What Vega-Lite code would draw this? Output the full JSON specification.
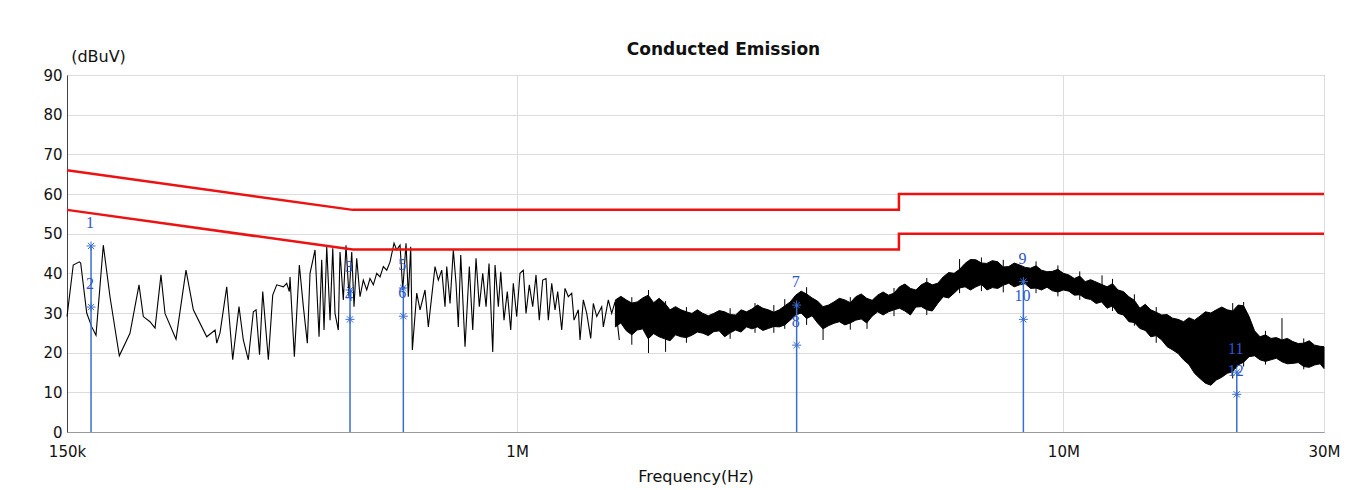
{
  "$schema": "https://vega.github.io/schema/vega-lite/v6.json",
  "width": 1257,
  "height": 357,
  "autosize": {"type": "none"},
  "padding": {"left": 67, "top": 75, "right": 35, "bottom": 58},
  "background": "white",
  "config": {
    "font": "DejaVu Sans",
    "view": {"stroke": "#8a8a8a", "strokeWidth": 1}
  },
  "title": {
    "text": "Conducted Emission",
    "font": "DejaVu Sans",
    "fontSize": 17,
    "fontWeight": "bold",
    "color": "#111111",
    "anchor": "middle",
    "dx": 28,
    "offset": -11
  },
  "datasets": {
    "trace": [
      {"f":0.15,"dB":29.1},{"f":0.154,"dB":42.1},{"f":0.158,"dB":42.9},{"f":0.1589,"dB":42.6},{"f":0.163,"dB":30},{"f":0.1665,"dB":26.5},{"f":0.1695,"dB":24.4},{"f":0.1748,"dB":47.1},{"f":0.1798,"dB":34.1},{"f":0.187,"dB":19.2},{"f":0.1956,"dB":24.9},{"f":0.2032,"dB":37.1},{"f":0.2069,"dB":29.1},{"f":0.2128,"dB":27.8},{"f":0.2174,"dB":26.2},{"f":0.2229,"dB":39.6},{"f":0.2267,"dB":29.9},{"f":0.2375,"dB":23.4},{"f":0.2477,"dB":40.8},{"f":0.2555,"dB":30.8},{"f":0.2703,"dB":24},{"f":0.28,"dB":25.7},{"f":0.282,"dB":22.4},{"f":0.2859,"dB":25},{"f":0.2941,"dB":36.6},{"f":0.3016,"dB":18.2},{"f":0.3097,"dB":31.6},{"f":0.3154,"dB":23.2},{"f":0.3221,"dB":18.2},{"f":0.329,"dB":30.3},{"f":0.3328,"dB":30.8},{"f":0.3377,"dB":19.5},{"f":0.3423,"dB":35.4},{"f":0.3505,"dB":18.2},{"f":0.357,"dB":34.5},{"f":0.3631,"dB":37.1},{"f":0.3734,"dB":36.6},{"f":0.3787,"dB":37.5},{"f":0.3829,"dB":35.4},{"f":0.384,"dB":39.1},{"f":0.3911,"dB":19},{"f":0.3994,"dB":42.1},{"f":0.4062,"dB":31.6},{"f":0.4131,"dB":22.4},{"f":0.4178,"dB":40},{"f":0.4267,"dB":45.9},{"f":0.434,"dB":24},{"f":0.4389,"dB":43.4},{"f":0.4432,"dB":25.7},{"f":0.4483,"dB":46.7},{"f":0.4546,"dB":28.2},{"f":0.4598,"dB":46.3},{"f":0.4642,"dB":29.9},{"f":0.4707,"dB":25.7},{"f":0.4741,"dB":45.4},{"f":0.4807,"dB":33.3},{"f":0.4862,"dB":47.1},{"f":0.4924,"dB":34.1},{"f":0.4981,"dB":45.4},{"f":0.5029,"dB":31.6},{"f":0.5087,"dB":43.8},{"f":0.5158,"dB":34.1},{"f":0.523,"dB":38.3},{"f":0.5306,"dB":35.8},{"f":0.538,"dB":38.7},{"f":0.5456,"dB":37.1},{"f":0.5534,"dB":40},{"f":0.5612,"dB":39.1},{"f":0.5691,"dB":41.7},{"f":0.5773,"dB":40.8},{"f":0.5854,"dB":42.9},{"f":0.5953,"dB":47.6},{"f":0.6021,"dB":45.9},{"f":0.6106,"dB":47.1},{"f":0.6176,"dB":35.8},{"f":0.6262,"dB":47.6},{"f":0.6323,"dB":34.1},{"f":0.6387,"dB":46.7},{"f":0.6431,"dB":20.7},{"f":0.6551,"dB":35},{"f":0.6643,"dB":30.8},{"f":0.6784,"dB":35.8},{"f":0.6879,"dB":26.5},{"f":0.7076,"dB":41.7},{"f":0.7175,"dB":38.3},{"f":0.7279,"dB":40.8},{"f":0.7381,"dB":31.6},{"f":0.7434,"dB":41.7},{"f":0.7538,"dB":32.4},{"f":0.7643,"dB":45.9},{"f":0.7731,"dB":37.5},{"f":0.7806,"dB":26.5},{"f":0.7886,"dB":44.6},{"f":0.803,"dB":21.5},{"f":0.8177,"dB":41.7},{"f":0.8295,"dB":25.7},{"f":0.8411,"dB":43.8},{"f":0.8529,"dB":31.6},{"f":0.8652,"dB":40},{"f":0.8774,"dB":31.6},{"f":0.8885,"dB":42.5},{"f":0.9025,"dB":20.2},{"f":0.9113,"dB":42.1},{"f":0.9241,"dB":31.6},{"f":0.9335,"dB":40.4},{"f":0.9464,"dB":28.2},{"f":0.9596,"dB":35.4},{"f":0.9735,"dB":25.7},{"f":0.9842,"dB":37.5},{"f":0.9984,"dB":29.1},{"f":1.0124,"dB":40},{"f":1.0266,"dB":40.8},{"f":1.0384,"dB":29.9},{"f":1.0529,"dB":37.1},{"f":1.0681,"dB":31.6},{"f":1.0831,"dB":39.6},{"f":1.0982,"dB":28.2},{"f":1.1141,"dB":38.3},{"f":1.1297,"dB":38.7},{"f":1.1407,"dB":28.2},{"f":1.1572,"dB":37.5},{"f":1.1734,"dB":30.8},{"f":1.1868,"dB":35.4},{"f":1.207,"dB":25.7},{"f":1.2239,"dB":36.2},{"f":1.2411,"dB":34.1},{"f":1.259,"dB":35},{"f":1.2713,"dB":28.2},{"f":1.2945,"dB":30.8},{"f":1.3038,"dB":23.2},{"f":1.3221,"dB":33.3},{"f":1.3412,"dB":29.9},{"f":1.364,"dB":23.6},{"f":1.379,"dB":32.4},{"f":1.3989,"dB":29.1},{"f":1.4287,"dB":31.6},{"f":1.4384,"dB":26.5},{"f":1.469,"dB":33.3},{"f":1.4901,"dB":29.9},{"f":1.511,"dB":32.8},{"f":1.5386,"dB":23.2}
    ],
    "band": [
      {"f":1.5136,"dB":26.5,"hi":33.3},{"f":1.5488,"dB":27.5,"hi":34.2},{"f":1.5849,"dB":25.5,"hi":33.3},{"f":1.6218,"dB":24.5,"hi":32.5},{"f":1.6596,"dB":25.7,"hi":32.8},{"f":1.6982,"dB":26,"hi":33.8},{"f":1.7378,"dB":23.5,"hi":34.5},{"f":1.7783,"dB":24.8,"hi":32.6},{"f":1.8197,"dB":24,"hi":33.7},{"f":1.8621,"dB":23.5,"hi":32.5},{"f":1.9055,"dB":23,"hi":30.8},{"f":1.9498,"dB":24.5,"hi":31.6},{"f":1.9953,"dB":24,"hi":30.8},{"f":2.0417,"dB":23.8,"hi":30.3},{"f":2.0893,"dB":24.4,"hi":29.9},{"f":2.138,"dB":25.2,"hi":30.8},{"f":2.1878,"dB":24.9,"hi":29.9},{"f":2.2387,"dB":24.3,"hi":29.3},{"f":2.2909,"dB":25.3,"hi":29.9},{"f":2.3442,"dB":25.5,"hi":30.6},{"f":2.3988,"dB":24,"hi":30.3},{"f":2.4547,"dB":25,"hi":29.6},{"f":2.5119,"dB":25.7,"hi":29.5},{"f":2.5704,"dB":25.2,"hi":30.8},{"f":2.6303,"dB":26.5,"hi":30.3},{"f":2.6915,"dB":26,"hi":31},{"f":2.7542,"dB":26.5,"hi":32},{"f":2.8184,"dB":25.6,"hi":31.2},{"f":2.884,"dB":26.1,"hi":30.8},{"f":2.9512,"dB":26.6,"hi":30.2},{"f":3.02,"dB":26.5,"hi":30.8},{"f":3.0903,"dB":27,"hi":31.8},{"f":3.1623,"dB":28.2,"hi":32.8},{"f":3.2359,"dB":29.5,"hi":34.5},{"f":3.3113,"dB":30,"hi":35.5},{"f":3.3884,"dB":28.6,"hi":34.8},{"f":3.4674,"dB":29.3,"hi":33.8},{"f":3.5481,"dB":27.5,"hi":33},{"f":3.6308,"dB":26,"hi":31.6},{"f":3.7154,"dB":26.8,"hi":32},{"f":3.8019,"dB":27.4,"hi":32.8},{"f":3.8905,"dB":27.8,"hi":33.7},{"f":3.9811,"dB":27,"hi":33.3},{"f":4.0738,"dB":27.5,"hi":32.6},{"f":4.1687,"dB":28.2,"hi":34.1},{"f":4.2658,"dB":28.5,"hi":34.8},{"f":4.3652,"dB":27.5,"hi":33.7},{"f":4.4668,"dB":29.2,"hi":33.2},{"f":4.5709,"dB":30.3,"hi":34.5},{"f":4.6774,"dB":29.5,"hi":35.3},{"f":4.7863,"dB":30.3,"hi":34.5},{"f":4.8978,"dB":30.8,"hi":35},{"f":5.0119,"dB":31.2,"hi":36.6},{"f":5.1286,"dB":30.5,"hi":37.3},{"f":5.2481,"dB":29.5,"hi":36.2},{"f":5.3703,"dB":31.5,"hi":35.8},{"f":5.4954,"dB":31.6,"hi":37.1},{"f":5.6234,"dB":30.8,"hi":37.8},{"f":5.7544,"dB":30.5,"hi":37.1},{"f":5.8884,"dB":32.4,"hi":37.5},{"f":6.0256,"dB":34.1,"hi":39.1},{"f":6.166,"dB":33.8,"hi":40.2},{"f":6.3096,"dB":35,"hi":40},{"f":6.4565,"dB":36.3,"hi":41},{"f":6.6069,"dB":36.6,"hi":42.5},{"f":6.7608,"dB":35.8,"hi":43.5},{"f":6.9183,"dB":36.6,"hi":43.4},{"f":7.0795,"dB":37.2,"hi":42.6},{"f":7.2444,"dB":35.8,"hi":42.5},{"f":7.4131,"dB":36.4,"hi":43.2},{"f":7.5858,"dB":36.2,"hi":42.9},{"f":7.7625,"dB":37,"hi":41.6},{"f":7.9433,"dB":37.5,"hi":41.7},{"f":8.1283,"dB":36.6,"hi":42.6},{"f":8.3176,"dB":37.1,"hi":42.1},{"f":8.5114,"dB":37.4,"hi":41.5},{"f":8.7096,"dB":36.2,"hi":41.3},{"f":8.9125,"dB":36.3,"hi":41.9},{"f":9.1201,"dB":35.8,"hi":40.8},{"f":9.3325,"dB":36.5,"hi":40.4},{"f":9.5499,"dB":35.6,"hi":40.5},{"f":9.7724,"dB":35.3,"hi":41},{"f":10,"dB":35.8,"hi":40},{"f":10.233,"dB":35.5,"hi":39.6},{"f":10.471,"dB":34.5,"hi":38.7},{"f":10.715,"dB":34.6,"hi":39.3},{"f":10.965,"dB":33.7,"hi":37.9},{"f":11.22,"dB":33.4,"hi":38.4},{"f":11.482,"dB":32.4,"hi":37.8},{"f":11.749,"dB":32.8,"hi":37.2},{"f":12.023,"dB":31.2,"hi":36.6},{"f":12.303,"dB":31.8,"hi":37.4},{"f":12.589,"dB":29.9,"hi":35.8},{"f":12.882,"dB":29.5,"hi":35.4},{"f":13.183,"dB":27.8,"hi":34.1},{"f":13.49,"dB":27.6,"hi":33.2},{"f":13.804,"dB":26.1,"hi":31.2},{"f":14.125,"dB":25.6,"hi":32.2},{"f":14.454,"dB":24,"hi":30.8},{"f":14.791,"dB":24.3,"hi":30.2},{"f":15.136,"dB":23.2,"hi":29.5},{"f":15.488,"dB":21.5,"hi":29.6},{"f":15.849,"dB":20.7,"hi":28.7},{"f":16.218,"dB":19.8,"hi":28.4},{"f":16.596,"dB":18.2,"hi":27.8},{"f":16.982,"dB":17,"hi":28.8},{"f":17.378,"dB":14.8,"hi":28.2},{"f":17.783,"dB":13.5,"hi":29.2},{"f":18.197,"dB":12.3,"hi":30.3},{"f":18.621,"dB":11.8,"hi":30},{"f":19.055,"dB":13.1,"hi":30.8},{"f":19.498,"dB":13.8,"hi":31.5},{"f":19.953,"dB":14.8,"hi":30.8},{"f":20.417,"dB":15.2,"hi":30.5},{"f":20.893,"dB":16.9,"hi":32},{"f":21.38,"dB":17.6,"hi":31.8},{"f":21.878,"dB":19,"hi":29.1},{"f":22.387,"dB":19.2,"hi":25.5},{"f":22.909,"dB":18.2,"hi":24},{"f":23.442,"dB":17.8,"hi":24.5},{"f":23.988,"dB":18.2,"hi":23.6},{"f":24.547,"dB":18.6,"hi":23.8},{"f":25.119,"dB":17.7,"hi":23.2},{"f":25.704,"dB":17.2,"hi":23.6},{"f":26.303,"dB":17.3,"hi":22.8},{"f":26.915,"dB":17.5,"hi":22.3},{"f":27.542,"dB":16.5,"hi":22.4},{"f":28.184,"dB":16.3,"hi":23},{"f":28.84,"dB":16.9,"hi":21.9},{"f":29.512,"dB":17.2,"hi":21.6},{"f":30,"dB":16,"hi":21.5}
    ],
    "spikes": [
      {"f":1.6218,"dB":22,"hi":34},{"f":1.74,"dB":19.9,"hi":35.8},{"f":1.87,"dB":20.2,"hi":33},{"f":2.0417,"dB":22.5,"hi":31.5},{"f":2.4547,"dB":23.5,"hi":31.2},{"f":2.726,"dB":25,"hi":32.5},{"f":2.9512,"dB":25,"hi":32},{"f":3.0903,"dB":26,"hi":33.5},{"f":3.3884,"dB":27,"hi":36.5},{"f":3.632,"dB":23.2,"hi":31.6},{"f":4.0738,"dB":25.8,"hi":34},{"f":4.371,"dB":26,"hi":33.7},{"f":4.8978,"dB":29.2,"hi":36.3},{"f":5.6234,"dB":29.5,"hi":38.8},{"f":6.4565,"dB":35,"hi":43.6},{"f":7.0795,"dB":35.5,"hi":44},{"f":7.7625,"dB":35.2,"hi":43.4},{"f":8.9125,"dB":35,"hi":43},{"f":9.7724,"dB":34.2,"hi":42},{"f":10.715,"dB":33.3,"hi":40.5},{"f":11.77,"dB":33,"hi":39.5},{"f":12.303,"dB":30.5,"hi":38.6},{"f":13.49,"dB":26.8,"hi":34.7},{"f":14.791,"dB":22.5,"hi":31.5},{"f":20.417,"dB":13.5,"hi":32.5},{"f":21.38,"dB":16.5,"hi":32.8},{"f":23.442,"dB":17,"hi":25.5},{"f":25.13,"dB":22.8,"hi":28.7},{"f":27.542,"dB":15.8,"hi":23.6}
    ],
    "limits": [
      {"line":"QP","f":0.15,"dB":66},{"line":"QP","f":0.5,"dB":56},{"line":"QP","f":5,"dB":56},{"line":"QP","f":5,"dB":60},{"line":"QP","f":30,"dB":60},
      {"line":"AV","f":0.15,"dB":56},{"line":"AV","f":0.5,"dB":46},{"line":"AV","f":5,"dB":46},{"line":"AV","f":5,"dB":50},{"line":"AV","f":30,"dB":50}
    ],
    "markerLines": [
      {"f":0.166,"dB":0,"top":46.9},{"f":0.4945,"dB":0,"top":35.8},{"f":0.6191,"dB":0,"top":36.3},{"f":3.249,"dB":0,"top":32},{"f":8.449,"dB":0,"top":37.9},{"f":20.77,"dB":0,"top":15.1}
    ],
    "markers": [
      {"no":"1","f":0.166,"dB":46.9},{"no":"2","f":0.166,"dB":31.5},{"no":"3","f":0.4945,"dB":35.8},{"no":"4","f":0.4945,"dB":28.4},{"no":"5","f":0.6191,"dB":36.3},{"no":"6","f":0.6191,"dB":29.2},{"no":"7","f":3.249,"dB":32},{"no":"8","f":3.249,"dB":21.9},{"no":"9","f":8.449,"dB":37.9},{"no":"10","f":8.449,"dB":28.4},{"no":"11","f":20.77,"dB":15.1},{"no":"12","f":20.77,"dB":9.5}
    ]
  },
  "encoding": {
    "x": {
      "field": "f", "type": "quantitative",
      "scale": {"type": "log", "domain": [0.15, 30], "nice": false},
      "axis": {
        "values": [0.15, 1, 10, 30],
        "labelExpr": "datum.value == 0.15 ? '150k' : datum.value + 'M'",
        "ticks": false,
        "labelPadding": 12,
        "labelFontSize": 15,
        "labelColor": "#111111",
        "labelFlush": false,
        "labelOverlap": false,
        "grid": true,
        "gridColor": "#dcdcdc",
        "domainColor": "#9a9a9a",
        "title": "Frequency(Hz)",
        "titleFontSize": 16,
        "titleFontWeight": "normal",
        "titleColor": "#111111",
        "titleY": 44,
        "titleBaseline": "middle"
      }
    },
    "y": {
      "field": "dB", "type": "quantitative",
      "scale": {"domain": [0, 90], "nice": false},
      "axis": {
        "values": [0, 10, 20, 30, 40, 50, 60, 70, 80, 90],
        "ticks": false,
        "labelPadding": 5,
        "labelFontSize": 15,
        "labelColor": "#111111",
        "labelOverlap": false,
        "labelFlush": false,
        "grid": true,
        "gridColor": "#dcdcdc",
        "domainColor": "#444444",
        "title": "(dBuV)",
        "titleAngle": 0,
        "titleAlign": "center",
        "titleBaseline": "middle",
        "titleX": 31,
        "titleY": -19,
        "titleFontSize": 16,
        "titleFontWeight": "normal",
        "titleColor": "#111111"
      }
    }
  },
  "layer": [
    {
      "data": {"name": "band"},
      "mark": {"type": "area", "color": "#000000", "stroke": "#000000", "strokeWidth": 1},
      "encoding": {"y2": {"field": "hi"}}
    },
    {
      "data": {"name": "spikes"},
      "mark": {"type": "rule", "color": "#000000", "strokeWidth": 1},
      "encoding": {"y2": {"field": "hi"}}
    },
    {
      "data": {"name": "trace"},
      "mark": {"type": "line", "color": "#000000", "strokeWidth": 1.1},
      "encoding": {}
    },
    {
      "data": {"name": "markerLines"},
      "mark": {"type": "rule", "color": "#3a6fd0", "strokeWidth": 1.5},
      "encoding": {"y2": {"field": "top"}}
    },
    {
      "data": {"name": "limits"},
      "mark": {"type": "line", "color": "#ee1111", "strokeWidth": 2.5},
      "encoding": {"detail": {"field": "line", "type": "nominal"}}
    },
    {
      "data": {"name": "markers"},
      "mark": {
        "type": "point",
        "shape": "M-1,0L1,0M0,-1L0,1M-0.7,-0.7L0.7,0.7M-0.7,0.7L0.7,-0.7",
        "filled": false,
        "size": 80,
        "stroke": "#3a6fd0",
        "strokeWidth": 1,
        "opacity": 1
      },
      "encoding": {}
    },
    {
      "data": {"name": "markers"},
      "mark": {
        "type": "text",
        "font": "Liberation Serif",
        "fontSize": 16,
        "color": "#2f55cc",
        "align": "center",
        "baseline": "middle",
        "dx": -1,
        "dy": -23
      },
      "encoding": {"text": {"field": "no", "type": "nominal"}}
    }
  ]
}
